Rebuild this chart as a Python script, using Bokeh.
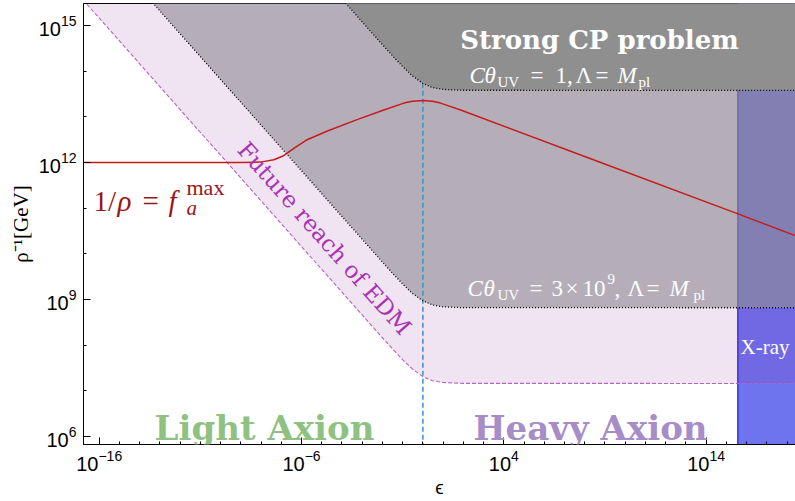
from bokeh.plotting import figure
from bokeh.models import Label, FixedTicker, LogTickFormatter, Range1d
from bokeh.embed import file_html
from bokeh.resources import INLINE

# ---------------- data ----------------
major_x = [1e-16, 1e-6, 1e4, 1e14]
minor_x = [10.0 ** k for k in range(-17, 19)]
major_y = [1e6, 1e9, 1e12, 1e15]
minor_y = [10.0 ** k for k in range(5, 16)]

# Strong CP boundary, C*theta_UV = 1, Lambda = M_pl
cp1_eps = [1e-5, 1e-4, 1e-3, 1e-2, 3e-2, 0.1, 0.3, 1, 3, 10, 100, 1e20]
cp1_rho = [1.2e16, 3.8e15, 1.2e15, 3.82e14, 2.23e14, 1.26e14, 7.91e13, 5.37e13,
           4.39e13, 3.99e13, 3.82e13, 3.8e13]
# C*theta_UV = 3e9, Lambda = M_pl
cp2_eps = [1e-17, 1e-14, 1e-10, 1e-6, 1e-3, 1e-2, 3e-2, 0.1, 0.3, 1, 3, 10, 100, 1e20]
cp2_rho = [2.09e17, 6.6e15, 6.6e13, 6.6e11, 2.09e10, 6.63e9, 3.87e9, 2.19e9, 1.37e9,
           9.33e8, 7.62e8, 6.92e8, 6.63e8, 6.6e8]
# future reach of EDM
edm_eps = [1e-17, 1e-14, 1e-10, 1e-6, 1e-3, 1e-2, 3e-2, 0.1, 0.3, 1, 3, 10, 100, 1e20]
edm_rho = [4.59e15, 1.45e14, 1.45e12, 1.45e10, 4.59e8, 1.46e8, 8.5e7, 4.81e7, 3.02e7,
           2.05e7, 1.67e7, 1.52e7, 1.46e7, 1.45e7]
# 1/rho = f_a^max
fa_eps = [1e-17, 1e-9, 9.3e-9, 4.3e-8, 1.3e-7, 4.2e-7, 1.9e-6, 1.9e-5, 5.6e-4, 0.0117,
          0.115, 0.3, 1, 3, 7.4, 74, 1e8, 3.5e15, 2.6e18, 1e19]
fa_rho = [1e12, 1e12, 1.02e12, 1.15e12, 1.41e12, 2.04e12, 3.16e12, 4.9e12, 8.7e12, 1.41e13,
          2.0e13, 2.19e13, 2.29e13, 2.19e13, 2.0e13, 1.41e13, 1.35e12, 7.6e10, 2.5e10, 2.0e10]
# light / heavy axion divide
eps_divide = 1.0
# X-ray bound
xray_eps = [3.7e15, 1e20]

# ---------------- layout helpers (reference pixel -> data) ----------------
def X(px):
    return 10 ** (4 + (px - 503.3) / 20.23)

def Y(py):
    return 10 ** (15 - (py - 25) / 45.67)

TOP = 1e19
BOT = 1e4

p = figure(width=795, height=501, x_axis_type="log", y_axis_type="log",
           x_range=Range1d(X(83), X(795)), y_range=Range1d(Y(444), Y(3)),
           output_backend="svg", toolbar_location=None,
           min_border_left=83, min_border_right=0, min_border_top=3, min_border_bottom=57)
p.background_fill_color = "white"
p.border_fill_color = "white"
p.outline_line_color = "black"
p.outline_line_width = 1
p.xgrid.visible = False
p.ygrid.visible = False

# X-ray region (drawn first, tinted by the overlays)
p.quad(left=[xray_eps[0]], right=[xray_eps[1]], bottom=[BOT], top=[TOP],
       fill_color="#6e74ee", line_color="#1a1ad0", line_width=1.2)

# future reach of EDM (translucent pink)
p.patch(edm_eps + [1e20, 1e-18], edm_rho + [TOP, TOP],
        fill_color=(138, 30, 147), fill_alpha=0.12, line_color=None)

# C theta = 3e9 region (translucent gray)
p.patch(cp2_eps + [1e20, 1e-18], cp2_rho + [TOP, TOP],
        fill_color=(144, 140, 150), fill_alpha=0.62, line_color=None)

# light / heavy divide
p.line([eps_divide, eps_divide], [BOT, 5.4e13], line_color="#3a90d0",
       line_width=1.5, line_dash="5 3")

# strong CP (opaque dark gray)
p.patch(cp1_eps + [1e20, 1e-6], cp1_rho + [TOP, TOP],
        fill_color="#8f8f8f", line_color=None)

# boundaries
p.line(cp1_eps, cp1_rho, line_color="black", line_width=1.3, line_dash="1 2")
p.line(cp2_eps, cp2_rho, line_color="black", line_width=1.3, line_dash="1 2")
p.line(edm_eps, edm_rho, line_color="#b462c6", line_width=1.1, line_dash="4 2")

# f_a max
p.line(fa_eps, fa_rho, line_color="#c41c1c", line_width=1.5)

# ---------------- axes ----------------
for ax, maj, mnr in ((p.xaxis, major_x, minor_x), (p.yaxis, major_y, minor_y)):
    ax.ticker = FixedTicker(ticks=maj, minor_ticks=mnr)
    ax.formatter = LogTickFormatter()
    ax.major_tick_in = 7
    ax.major_tick_out = 0
    ax.minor_tick_in = 3
    ax.minor_tick_out = 0
    ax.axis_line_color = "black"
    ax.major_tick_line_color = "black"
    ax.minor_tick_line_color = "black"
    ax.major_label_text_font = "Liberation Sans"
    ax.major_label_text_font_size = "20px"
    ax.major_label_text_color = "black"
    ax.axis_label_text_color = "black"
    ax.axis_label_text_font_style = "normal"

p.xaxis.major_label_standoff = 5
p.xaxis.axis_label = "ϵ"
p.xaxis.axis_label_text_font = "Liberation Sans"
p.xaxis.axis_label_text_font_size = "19px"
p.xaxis.axis_label_standoff = 3

p.yaxis.major_label_standoff = 7
p.yaxis.axis_label = "ρ⁻¹[GeV]"
p.yaxis.axis_label_text_font = "Liberation Serif"
p.yaxis.axis_label_text_font_size = "21px"
p.yaxis.axis_label_standoff = 3

# ---------------- texts ----------------
def put(txt, px, py, size, color, font="Liberation Serif", style="normal",
        align="left", baseline="alphabetic", angle=0.0):
    p.add_layout(Label(x=X(px), y=Y(py), text=txt, text_font=font,
                       text_font_size=f"{size}px", text_color=color,
                       text_font_style=style, text_align=align,
                       text_baseline=baseline, angle=angle))

W = "#ffffff"
put("Strong CP problem", 599, 39, 26, W, font="DejaVu Serif", style="bold", align="center")

# C theta_UV = 1, Lambda = M_pl
put("C", 469, 75, 23, W, style="italic")
put("θ", 484, 75, 23, W, style="italic")
put("UV", 497, 81.5, 15, W)
put("=", 530, 75, 23, W)
put("1,", 555, 75, 23, W)
put("Λ", 575, 75, 23, W)
put("=", 595, 75, 23, W)
put("M", 617, 75, 23, W, style="italic")
put("pl", 638, 81.5, 15, W)

# C theta_UV = 3 x 10^9, Lambda = M_pl
put("C", 467, 288, 23, W, style="italic")
put("θ", 483, 288, 23, W, style="italic")
put("UV", 497, 294, 15, W)
put("=", 529, 288, 23, W)
put("3", 551, 288, 23, W)
put("×", 565, 288, 23, W)
put("10", 582, 288, 23, W)
put("9", 607, 278, 15, W)
put(",", 614, 288, 23, W)
put("Λ", 627, 288, 23, W)
put("=", 646, 288, 23, W)
put("M", 669, 288, 23, W, style="italic")
put("pl", 693, 294, 15, W)

# 1/rho = f_a^max
R = "#9a1616"
put("1/", 93, 200, 29, R)
put("ρ", 117, 200, 29, R, style="italic")
put("=", 142, 200, 29, R)
put("f", 168, 200, 29, R, style="italic")
put("max", 186, 187, 22, R)
put("a", 186, 207, 21, R, style="italic")

put("Future reach of EDM", 324, 238, 23, "#a834b5", font="DejaVu Serif",
    align="center", baseline="middle", angle=-0.8465)

put("X-ray", 740, 346, 21, W)

put("Light Axion", 264, 427, 34, "#8fc282", font="DejaVu Serif", style="bold", align="center")
put("Heavy Axion", 590, 427, 34, "#a68dc7", font="DejaVu Serif", style="bold", align="center")

open("out.html", "w").write(file_html(p, INLINE))
